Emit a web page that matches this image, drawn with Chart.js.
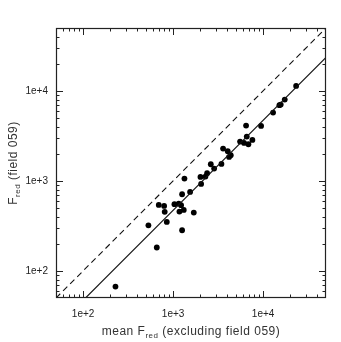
<!DOCTYPE html>
<html><head><meta charset="utf-8">
<script src="https://cdn.jsdelivr.net/npm/chart.js@4/dist/chart.umd.min.js"></script>
<style>html,body{margin:0;padding:0;background:#fff}canvas{display:block}</style>
</head><body>
<canvas id="c" width="341" height="342"></canvas>
<script>
// mean F_red (excluding field 059)
const meanFred = [229,532,659,693,795,807,851,1035,1156,1176,1227,1259,1259,1314,1337,1545,1698,2015,2048,2287,2387,2624,2858,3445,3594,4049,4189,4372,5550,6145,6471,6587,6871,7604,9502,12912,15177,15701,17402,23280];
// F_red (field 059)
const fieldFred = [67,321,182,541,527,453,350,551,560,456,537,283,711,476,1062,755,445,1108,926,1117,1217,1531,1371,1545,2287,2138,1848,1928,2735,2642,4121,3112,2555,2855,4083,5741,6933,7045,8017,11370];
const axisMin = 50, axisMax = 50000;
const fitSlope = 0.47;
const tickLabels = {100:'1e+2',1000:'1e+3',10000:'1e+4'};
const decades = [10,100,1000,10000];
const mantissas = [1,2,3,4,5,6,7,8,9];

const pts = meanFred.map((x,i)=>({x:x,y:fieldFred[i]}));
const oneToOne = [{x:axisMin,y:axisMin},{x:axisMax,y:axisMax}];
const fitLine = [{x:axisMin/fitSlope,y:axisMin},{x:axisMax,y:axisMax*fitSlope}];

const ink = '#111';
const framePlugin = {
  id:'frame',
  afterDraw(chart){
    const ctx = chart.ctx, a = chart.chartArea;
    const xs = chart.scales.x, ys = chart.scales.y;
    ctx.save();
    ctx.strokeStyle = '#222'; ctx.lineWidth = 1.2;
    ctx.strokeRect(a.left+0.5, a.top+0.5, a.right-a.left-1, a.bottom-a.top-1);
    ctx.lineWidth = 1;
    ctx.beginPath();
    decades.forEach(d=>mantissas.forEach(m=>{
      const v = d*m;
      if (v <= axisMin || v >= axisMax) return;
      const L = m===1?7:3.5;
      const px = Math.round(xs.getPixelForValue(v))+0.5;
      ctx.moveTo(px,a.bottom); ctx.lineTo(px,a.bottom-L);
      ctx.moveTo(px,a.top); ctx.lineTo(px,a.top+L);
      const py = Math.round(ys.getPixelForValue(v))+0.5;
      ctx.moveTo(a.left,py); ctx.lineTo(a.left+L,py);
      ctx.moveTo(a.right,py); ctx.lineTo(a.right-L,py);
    }));
    ctx.stroke();
    // axis titles with subscripts
    ctx.fillStyle = '#333';
    const big = '12px "Liberation Sans", Arial, sans-serif';
    const small = '8px "Liberation Sans", Arial, sans-serif';
    function drawTitle(parts, cx, cy){
      ctx.letterSpacing = '0.5px';
      let w = 0;
      parts.forEach(p=>{ctx.font = p.sub?small:big; p.w = ctx.measureText(p.t).width; w += p.w;});
      let x = cx - w/2;
      ctx.textBaseline = 'alphabetic'; ctx.textAlign = 'left';
      parts.forEach(p=>{ctx.font = p.sub?small:big; ctx.fillText(p.t, x, cy + (p.sub?3:0)); x += p.w;});
    }
    const cx = (a.left+a.right)/2, cy = (a.top+a.bottom)/2;
    drawTitle([{t:'mean F'},{t:'red',sub:true},{t:' (excluding field 059)'}], cx, 335);
    ctx.save();
    ctx.translate(17, cy);
    ctx.rotate(-Math.PI/2);
    drawTitle([{t:'F'},{t:'red',sub:true},{t:' (field 059)'}], 0, 0);
    ctx.restore();
    ctx.restore();
  }
};

const tickFont = {family:'"Liberation Sans", Arial, sans-serif', size:10};
new Chart(document.getElementById('c'), {
  type:'scatter',
  data:{datasets:[
    {type:'line', data:oneToOne, borderColor:ink, borderWidth:1.1, borderDash:[6,4], pointRadius:0, fill:false},
    {type:'line', data:fitLine, borderColor:ink, borderWidth:1.1, pointRadius:0, fill:false},
    {data:pts, backgroundColor:'#000', borderColor:'#000', pointRadius:2.9, borderWidth:0}
  ]},
  options:{
    responsive:false, animation:false,
    layout:{padding:{left:0,right:15,top:28,bottom:0}},
    plugins:{legend:{display:false}, tooltip:{enabled:false}},
    scales:{
      x:{type:'logarithmic', min:axisMin, max:axisMax,
        grid:{display:false, drawTicks:false}, border:{display:false},
        afterFit(s){ s.height = 44; },
        ticks:{autoSkip:false, maxRotation:0, padding:10, color:'#222', font:tickFont,
          callback:(v)=>tickLabels[v]||''}},
      y:{type:'logarithmic', min:axisMin, max:axisMax,
        grid:{display:false, drawTicks:false}, border:{display:false},
        afterFit(s){ s.width = 56; },
        ticks:{autoSkip:false, padding:8, color:'#222', font:tickFont,
          callback:(v)=>tickLabels[v]||''}}
    }
  },
  plugins:[framePlugin]
});
</script>
</body></html>
